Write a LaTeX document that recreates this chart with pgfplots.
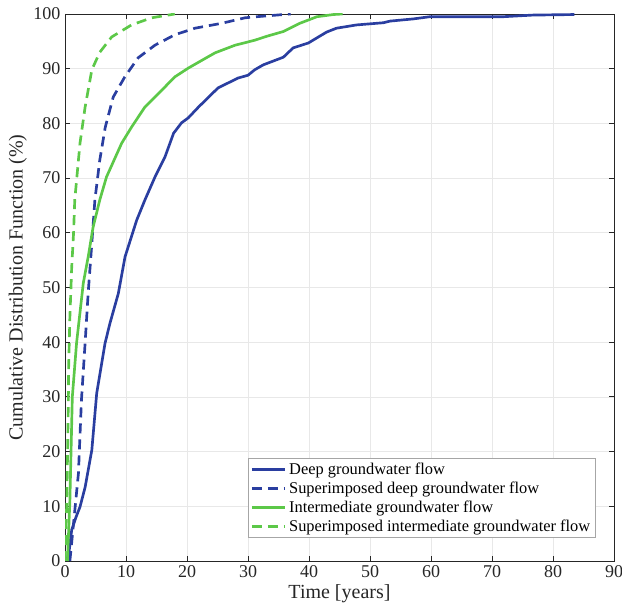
\documentclass[border=0pt]{standalone}
\usepackage{fontspec}
\setmainfont{Liberation Serif}
\usepackage{pgfplots}
\pgfplotsset{compat=1.18}
\definecolor{mblue}{RGB}{42,62,160}
\definecolor{mgreen}{RGB}{92,200,72}
\definecolor{axgray}{RGB}{38,38,38}
\begin{document}
\begin{tikzpicture}
\begin{axis}[
  name=ax,
  scale only axis,
  width=411.75pt, height=410.25pt,
  xmin=0, xmax=90, ymin=0, ymax=100,
  xtick={0,10,...,90}, ytick={0,10,...,100},
  tick align=inside,
  major tick length=4pt,
  axis line style={axgray, line width=0.6pt},
  tick style={axgray, line width=0.6pt},
  grid=major,
  grid style={gray!18, line width=0.5pt},
  tick label style={font=\fontsize{13.5}{16}\selectfont, text=axgray},
  /pgf/number format/assume math mode=true,
  xlabel={Time [years]},
  ylabel={Cumulative Distribution Function (\%)},
  label style={font=\fontsize{15}{18}\selectfont, text=axgray},
  xlabel style={yshift=2pt},
  ylabel style={yshift=-2pt},
  legend style={at={(0.967,0.042)}, anchor=south east, draw=gray!70, line width=0.5pt,
    fill=white, font=\fontsize{12.3}{14}\selectfont, inner xsep=2pt, inner ysep=1.5pt,
    row sep=0pt},
  legend cell align=left,
  legend image code/.code={\draw[#1] (0pt,0pt) -- (25pt,0pt);},
  every axis plot/.append style={line width=2pt},
]
\addplot[mblue, solid] coordinates {
(0.3,0) (0.7,2) (1.1,5.7) (1.8,8) (2.46,9.9) (3.3,13.5) (4.4,20.3) (5.2,30.7) (6.56,39.8) (7.38,43.5) (8.74,48.9) (9.84,55.6) (11.75,62.3) (13.1,66) (14.75,70.2) (16.4,73.9) (17.8,78.2) (19.1,80.1) (20.2,81) (21.9,83) (25.1,86.5) (28.4,88.3) (30,88.8) (31.1,89.8) (32.5,90.7) (35.8,92.1) (37.4,93.8) (39.9,94.7) (42.9,96.7) (44.5,97.4) (47.8,98) (52.2,98.4) (53.3,98.7) (57.1,99.1) (59.8,99.5) (71.8,99.5) (76.7,99.8) (83.5,99.9)
};
\addlegendentry{Deep groundwater flow}
\addplot[mblue, dash pattern=on 7.5pt off 4.5pt] coordinates {
(0.8,0) (1.5,8) (2.2,16) (2.7,29.5) (3.3,39.9) (3.8,49) (4.4,58.1) (4.9,66) (5.7,73.3) (6.6,79.3) (7.9,84.8) (9.8,88.5) (12,92) (14.75,94.3) (18,96.2) (21.3,97.4) (25.7,98.3) (29.5,99.3) (31.4,99.5) (35.8,99.9) (37,100)
};
\addlegendentry{Superimposed deep groundwater flow}
\addplot[mgreen, solid] coordinates {
(0.4,0) (0.8,11) (1.2,30) (1.9,39.9) (3,50.8) (3.8,55.6) (4.6,61) (5.7,66) (6.8,70.2) (9.3,76.4) (10.9,79.3) (13.1,83) (14.75,84.8) (18,88.5) (20.2,90.1) (24.6,92.9) (27.9,94.3) (31.1,95.2) (33,95.9) (35.8,96.8) (38.5,98.3) (41.3,99.5) (44,99.9) (45.5,100)
};
\addlegendentry{Intermediate groundwater flow}
\addplot[mgreen, dash pattern=on 7.5pt off 4.5pt] coordinates {
(0,0) (0.3,11) (0.55,29.4) (0.6,35.5) (0.8,44.6) (1.1,53.7) (1.4,59.9) (1.6,66) (2.46,76.4) (3.3,83) (4.4,89.8) (5.7,93) (7.65,95.8) (10.9,98) (14.2,99.3) (18,100)
};
\addlegendentry{Superimposed intermediate groundwater flow}
\end{axis}
\pgfresetboundingbox
\path ([shift={(-48.75pt,-38.25pt)}]ax.south west) rectangle ([shift={(6pt,10.5pt)}]ax.north east);
\end{tikzpicture}
\end{document}
